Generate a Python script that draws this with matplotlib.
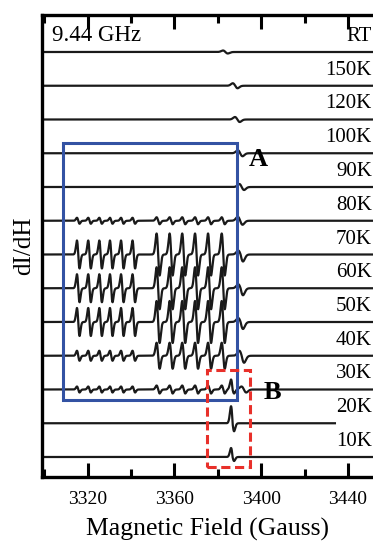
import numpy as np
import matplotlib
matplotlib.use('Agg')
import matplotlib.pyplot as plt
from matplotlib.patches import Rectangle

plt.rcParams['font.family'] = ['Liberation Serif', 'DejaVu Serif']

# temperatures, top trace first
labels = ['RT', '150K', '120K', '100K', '90K', '80K', '70K', '60K', '50K', '40K', '30K', '20K', '10K']

# hyperfine line positions (Gauss)
left_lines = [3315.7, 3320.9, 3326.0, 3330.9, 3336.0, 3341.3]
right_lines = [3352.5, 3358.5, 3364.3, 3370.2, 3376.2, 3382.5]

# amplitudes per trace (same units as the trace spacing)
left_amp = [0, 0, 0, 0, 0, 3, 14, 14, 14, 5, 3, 0, 0]
right_amp = [0, 0, 0, 0, 0, 3.5, 21, 21, 21, 13, 4, 0, 0]

# line A (main) position and up/down excursions
main_pos = [3383.5, 3388, 3389, 3390.3, 3391, 3390.3, 3390.5, 3390.5, 3390.5, 3391, 3392, 3392, 3392]
main_up = [1.5, 2.5, 2.5, 3, 3, 4, 4, 4, 4, 5, 3, 0, 0]
main_down = [1.5, 2.5, 2.5, 3, 3, 4, 7, 7, 7, 7, 3, 0, 0]

# line B near 3387 G at low temperature
b_pos = 3386.8
b_up = [0, 0, 0, 0, 0, 0, 0, 0, 0, 0, 10, 17, 9]
b_down = [0, 0, 0, 0, 0, 0, 0, 0, 0, 0, 4, 8, 4]

# trace end (20K trace stops short)
trace_end = [3452, 3452, 3452, 3452, 3452, 3452, 3452, 3452, 3452, 3452, 3452, 3434, 3452]

spacing = 33.75
field = np.arange(3299.5, 3452, 0.05)


def deriv(x, x0, sig, up, down):
    u = (x - x0) / sig
    g = -u * np.exp(-u ** 2 / 2) / 0.6065
    return np.where(u < 0, g * up, g * down)


fig = plt.figure(figsize=(3.73, 5.45), dpi=100)
ax = fig.add_axes([42 / 373, 1 - 477 / 545, 331 / 373, 462 / 545])

n = len(labels)
for i, lab in enumerate(labels):
    off = (n - 1 - i) * spacing
    y = np.zeros_like(field)
    for p in left_lines:
        y += deriv(field, p, 0.6, left_amp[i], left_amp[i])
    for p in right_lines:
        y += deriv(field, p, 0.7, right_amp[i], right_amp[i])
    y += deriv(field, main_pos[i], 1.1, main_up[i], main_down[i])
    y += deriv(field, b_pos, 0.7, b_up[i], b_down[i])
    m = field <= trace_end[i]
    ax.plot(field[m], y[m] + off, color='#1a1a1a', lw=1.6)
    ax.text(3451, off + 6, lab, ha='right', va='bottom', fontsize=15)

ax.text(3303.5, 12 * spacing + 6, '9.44 GHz', ha='left', va='bottom', fontsize=16.5)

# boxes
ax.add_patch(Rectangle((3308.8, 1.69 * spacing), 3389 - 3308.8, (9.30 - 1.69) * spacing,
                       fill=False, ec='#3352a3', lw=2.2, zorder=3))
ax.add_patch(Rectangle((3375.1, -0.30 * spacing), 3395 - 3375.1, (2.58 + 0.30) * spacing,
                       fill=False, ec='#e8302a', lw=2.2, ls=(0, (3, 1.5)), zorder=3))
ax.text(3398.5, 8.8 * spacing, 'A', ha='center', va='center', fontsize=19, fontweight='bold')
ax.text(3405, 1.9 * spacing, 'B', ha='center', va='center', fontsize=19, fontweight='bold')

ax.set_xlim(3299, 3451.5)
ax.set_ylim(-20, 442)
ax.set_xticks([3320, 3360, 3400, 3440])
ax.set_xticks([3300, 3340, 3380, 3420], minor=True)
ax.set_yticks([])
ax.tick_params(axis='x', which='major', direction='in', top=True, length=10, width=2.2, labelsize=14, pad=10)
ax.tick_params(axis='x', which='minor', direction='in', top=True, length=6, width=2.2)
for s in ['left', 'top', 'bottom']:
    ax.spines[s].set_linewidth(2.4)
ax.spines['right'].set_visible(False)

ax.set_xlabel('Magnetic Field (Gauss)', fontsize=18.5, labelpad=7)
ax.set_ylabel('dI/dH', fontsize=18, labelpad=5)

plt.savefig('out.png', dpi=100)
